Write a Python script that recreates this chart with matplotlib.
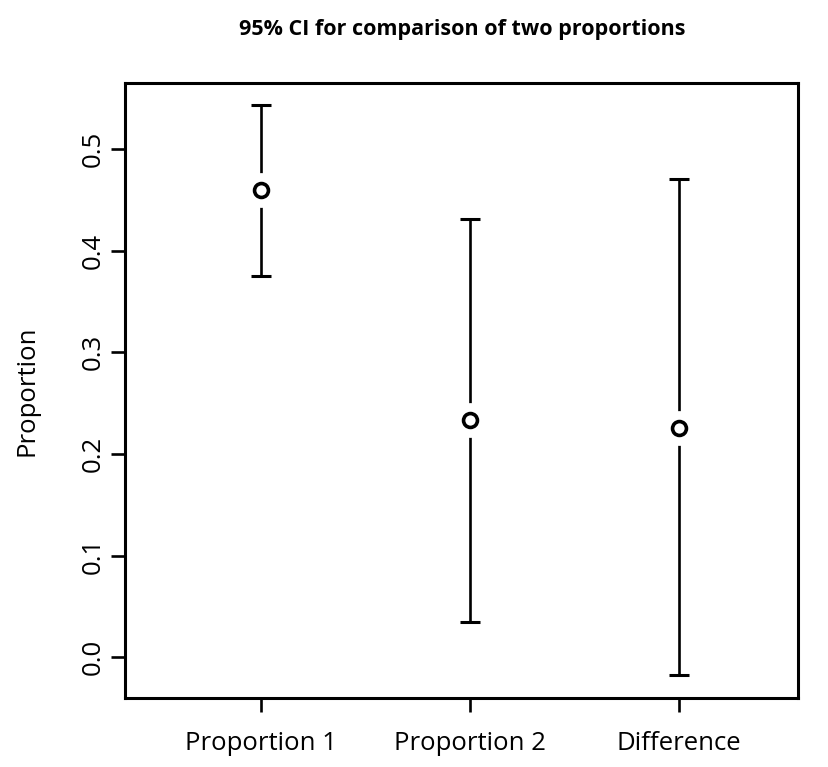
import numpy as np
import matplotlib.pyplot as plt

# Estimates and 95% CI bounds

labels = ['Proportion 1', 'Proportion 2', 'Difference']
est = [0.460, 0.233, 0.226]
lower = [0.375, 0.035, -0.017]
upper = [0.543, 0.431, 0.470]

x = np.arange(1, len(labels) + 1)
est = np.array(est)
lower = np.array(lower)
upper = np.array(upper)

plt.rcParams['font.family'] = ['Open Sans', 'DejaVu Sans']

fig = plt.figure(figsize=(8.29, 7.67), dpi=100)
ax = fig.add_axes([0.151, 0.090, 0.812, 0.802])

# error bars with caps
ax.errorbar(x, est, yerr=[est - lower, upper - est], fmt='none',
            ecolor='black', elinewidth=1.9, capsize=7, capthick=2.2, zorder=1)
# white halo leaves a gap around each point, like R's plotCI
ax.plot(x, est, 'o', ms=24, mfc='white', mec='white', zorder=2)
ax.plot(x, est, 'o', ms=10, mfc='white', mec='black', mew=2.6, zorder=3)

ax.set_xlim(0.35, 3.57)
ax.set_ylim(-0.040, 0.565)
ax.set_xticks(x)
ax.set_xticklabels(labels, fontsize=18.5)
ax.set_yticks([0.0, 0.1, 0.2, 0.3, 0.4, 0.5])
ax.set_yticklabels(['0.0', '0.1', '0.2', '0.3', '0.4', '0.5'], rotation=90,
                   va='center', fontsize=18.5)
ax.tick_params(axis='both', length=10, width=1.9, pad=4)
ax.tick_params(axis='x', pad=14)
for s in ax.spines.values():
    s.set_linewidth(2.2)

ax.set_ylabel('Proportion', fontsize=18.5, labelpad=30)
ax.set_title('95% CI for comparison of two proportions', y=1.065,
             fontsize=15.5, fontweight='bold')

fig.savefig('out.png', dpi=100)
